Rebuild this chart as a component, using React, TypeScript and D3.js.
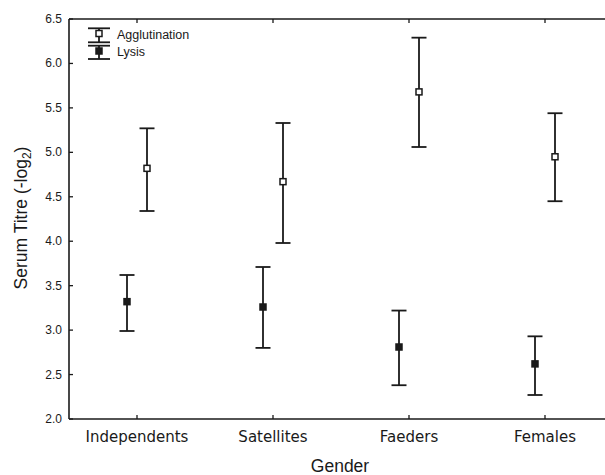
import React from "react";
import * as d3 from "d3";

const categories = ["Independents", "Satellites", "Faeders", "Females"];
const yTicks = [2.0, 2.5, 3.0, 3.5, 4.0, 4.5, 5.0, 5.5, 6.0, 6.5];

const agglutMean = [4.82, 4.67, 5.68, 4.95];
const agglutLow = [4.34, 3.98, 5.06, 4.45];
const agglutHigh = [5.27, 5.33, 6.29, 5.44];

const lysisMean = [3.32, 3.26, 2.81, 2.62];
const lysisLow = [2.99, 2.8, 2.38, 2.27];
const lysisHigh = [3.62, 3.71, 3.22, 2.93];

const W = 605;
const H = 475;
const left = 69;
const top = 19;
const bottom = 419;
const step = 136;
const ink = "#1a1a1a";

const ErrBar = ({ x, yMid, yLo, yHi, open, cap = 7.5 }) => (
  <g stroke={ink} strokeWidth={1.8}>
    <line x1={x} x2={x} y1={yHi} y2={yLo} />
    <line x1={x - cap} x2={x + cap} y1={yHi} y2={yHi} />
    <line x1={x - cap} x2={x + cap} y1={yLo} y2={yLo} />
    <rect
      x={x - 3}
      y={yMid - 3}
      width={6}
      height={6}
      fill={open ? "#fff" : ink}
      strokeWidth={1.5}
    />
  </g>
);

const App = () => {
  const x = d3
    .scaleBand()
    .domain(categories)
    .range([left, left + step * categories.length]);
  const y = d3.scaleLinear().domain([2, 6.5]).range([bottom, top]);
  const cx = (c: string) => (x(c) as number) + x.bandwidth() / 2;

  return (
    <svg
      width={W}
      height={H}
      style={{ position: "absolute", left: 0, top: 0, background: "#fff" }}
    >
      {/* frame */}
      <g stroke={ink} strokeWidth={1.6} fill="none">
        <line x1={left} x2={W + 20} y1={top} y2={top} />
        <line x1={left} x2={W + 20} y1={bottom} y2={bottom} />
        <line x1={left} x2={left} y1={top} y2={bottom} />
      </g>

      {/* y axis */}
      {yTicks.map((t) => (
        <g key={t}>
          <line x1={left} x2={left + 4} y1={y(t)} y2={y(t)} stroke={ink} strokeWidth={1.3} />
          <text
            x={62}
            y={y(t) + 4}
            textAnchor="end"
            fontFamily="Liberation Sans, Arial, sans-serif"
            fontSize={12}
            fill={ink}
          >
            {d3.format(".1f")(t)}
          </text>
        </g>
      ))}

      {/* x axis */}
      {categories.map((c) => (
        <g key={c}>
          <line x1={cx(c)} x2={cx(c)} y1={bottom} y2={bottom - 4} stroke={ink} strokeWidth={1.3} />
          <line x1={cx(c)} x2={cx(c)} y1={top} y2={top + 4} stroke={ink} strokeWidth={1.3} />
          <text
            x={cx(c)}
            y={442}
            textAnchor="middle"
            fontFamily="DejaVu Sans, Verdana, sans-serif"
            fontSize={15}
            fill={ink}
          >
            {c}
          </text>
        </g>
      ))}

      {/* titles */}
      <text
        x={340}
        y={472}
        textAnchor="middle"
        fontFamily="Liberation Sans, Arial, sans-serif"
        fontSize={17.5}
        fill={ink}
      >
        Gender
      </text>
      <text
        transform="translate(27,218) rotate(-90)"
        textAnchor="middle"
        fontFamily="Liberation Sans, Arial, sans-serif"
        fontSize={17.5}
        fill={ink}
      >
        Serum Titre (-log
        <tspan fontSize={12} dy={4}>2</tspan>
        <tspan dy={-4}>)</tspan>
      </text>

      {/* series */}
      {categories.map((c, i) => (
        <g key={c}>
          <ErrBar
            x={cx(c) + 10}
            yMid={y(agglutMean[i])}
            yLo={y(agglutLow[i])}
            yHi={y(agglutHigh[i])}
            open
          />
          <ErrBar
            x={cx(c) - 10}
            yMid={y(lysisMean[i])}
            yLo={y(lysisLow[i])}
            yHi={y(lysisHigh[i])}
            open={false}
          />
        </g>
      ))}

      {/* legend */}
      <ErrBar x={99} yMid={33.5} yLo={42.3} yHi={28.3} open cap={11} />
      <ErrBar x={99} yMid={51} yLo={59} yHi={45.7} open={false} cap={11} />
      <g fontFamily="Liberation Sans, Arial, sans-serif" fontSize={12.5} fill={ink}>
        <text x={117} y={39}>Agglutination</text>
        <text x={117} y={55.5}>Lysis</text>
      </g>
    </svg>
  );
};

export default App;
